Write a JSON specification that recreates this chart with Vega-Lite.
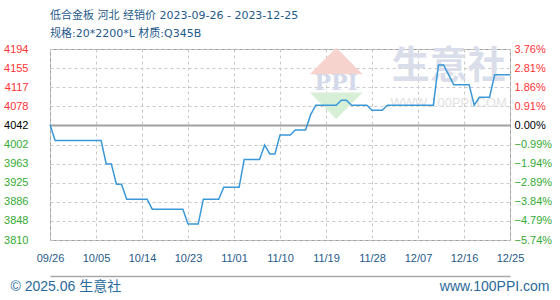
{
  "$schema": "https://vega.github.io/schema/vega-lite/v6.json",
  "autosize": "none",
  "width": 460,
  "height": 191,
  "padding": {"left": 50, "top": 49, "right": 50, "bottom": 60},
  "background": "#ffffff",
  "config": {
    "view": {"stroke": "#a0a0a0", "strokeWidth": 1},
    "font": "Liberation Sans"
  },
  "title": {
    "text": "低合金板 河北 经销价 2023-09-26 - 2023-12-25",
    "subtitle": "规格:20*2200*L 材质:Q345B",
    "anchor": "start",
    "frame": "group",
    "font": "DejaVu Sans, Noto Sans CJK SC",
    "subtitleFont": "DejaVu Sans, Noto Sans CJK SC",
    "fontSize": 11,
    "subtitleFontSize": 11,
    "fontWeight": "normal",
    "color": "#1f5a8a",
    "subtitleColor": "#1f5a8a",
    "subtitlePadding": 7,
    "offset": 4
  },
  "layer": [
    {
      "data": {"values": [{"date": "2023-11-21", "price": 4170}]},
      "mark": {"type": "point", "shape": "M-1,0.5L1,0.5L0,-0.5Z", "size": 2800, "filled": true, "color": "#f6d3cc", "opacity": 1},
      "encoding": {
        "x": {"field": "date", "type": "temporal", "axis": null},
        "y": {"field": "price", "type": "quantitative", "axis": null}
      }
    },
    {
      "data": {"values": [{"date": "2023-11-21", "price": 4080}]},
      "mark": {"type": "point", "shape": "M-1,-0.5L1,-0.5L0,0.5Z", "size": 2800, "filled": true, "color": "#d6efd6", "opacity": 1},
      "encoding": {
        "x": {"field": "date", "type": "temporal", "axis": null},
        "y": {"field": "price", "type": "quantitative", "axis": null}
      }
    },
    {
      "data": {"values": [{"date": "2023-11-21", "price": 4126, "label": "PPI"}]},
      "mark": {"type": "text", "font": "DejaVu Serif", "fontSize": 22, "fontWeight": "bold", "color": "#d3d9e8", "baseline": "middle", "align": "center"},
      "encoding": {
        "x": {"field": "date", "type": "temporal", "axis": null},
        "y": {"field": "price", "type": "quantitative", "axis": null},
        "text": {"field": "label"}
      }
    },
    {
      "data": {"values": [{"date": "2023-12-13", "price": 4157, "label": "生意社"}]},
      "mark": {"type": "text", "font": "Noto Sans CJK SC", "fontSize": 38, "fontWeight": "bold", "color": "#dadeea", "baseline": "middle", "align": "center"},
      "encoding": {
        "x": {"field": "date", "type": "temporal", "axis": null},
        "y": {"field": "price", "type": "quantitative", "axis": null},
        "text": {"field": "label"}
      }
    },
    {
      "data": {"values": [{"date": "2023-12-13", "price": 4086, "label": "WWW.100PPI.COM"}]},
      "mark": {"type": "text", "font": "Liberation Sans", "fontSize": 13, "color": "#e2e2e2", "baseline": "middle", "align": "center"},
      "encoding": {
        "x": {"field": "date", "type": "temporal", "axis": null},
        "y": {"field": "price", "type": "quantitative", "axis": null},
        "text": {"field": "label"}
      }
    },
    {
      "data": {"name": "prices", "values": [
        {"date": "2023-09-26", "price": 4042},
        {"date": "2023-09-27", "price": 4010},
        {"date": "2023-10-06", "price": 4010},
        {"date": "2023-10-07", "price": 3963},
        {"date": "2023-10-08", "price": 3963},
        {"date": "2023-10-09", "price": 3922},
        {"date": "2023-10-10", "price": 3922},
        {"date": "2023-10-11", "price": 3892},
        {"date": "2023-10-15", "price": 3892},
        {"date": "2023-10-16", "price": 3872},
        {"date": "2023-10-22", "price": 3872},
        {"date": "2023-10-23", "price": 3842},
        {"date": "2023-10-25", "price": 3842},
        {"date": "2023-10-26", "price": 3892},
        {"date": "2023-10-29", "price": 3892},
        {"date": "2023-10-30", "price": 3916},
        {"date": "2023-11-02", "price": 3916},
        {"date": "2023-11-03", "price": 3972},
        {"date": "2023-11-06", "price": 3972},
        {"date": "2023-11-07", "price": 4001},
        {"date": "2023-11-08", "price": 3983},
        {"date": "2023-11-09", "price": 3983},
        {"date": "2023-11-10", "price": 4021},
        {"date": "2023-11-12", "price": 4021},
        {"date": "2023-11-13", "price": 4031},
        {"date": "2023-11-15", "price": 4031},
        {"date": "2023-11-16", "price": 4062},
        {"date": "2023-11-17", "price": 4081},
        {"date": "2023-11-21", "price": 4081},
        {"date": "2023-11-22", "price": 4091},
        {"date": "2023-11-23", "price": 4091},
        {"date": "2023-11-24", "price": 4081},
        {"date": "2023-11-27", "price": 4081},
        {"date": "2023-11-28", "price": 4071},
        {"date": "2023-11-30", "price": 4071},
        {"date": "2023-12-01", "price": 4081},
        {"date": "2023-12-10", "price": 4081},
        {"date": "2023-12-11", "price": 4162},
        {"date": "2023-12-12", "price": 4162},
        {"date": "2023-12-13", "price": 4142},
        {"date": "2023-12-14", "price": 4122},
        {"date": "2023-12-17", "price": 4122},
        {"date": "2023-12-18", "price": 4081},
        {"date": "2023-12-19", "price": 4097},
        {"date": "2023-12-21", "price": 4097},
        {"date": "2023-12-22", "price": 4142},
        {"date": "2023-12-25", "price": 4142}
      ]},
      "mark": {"type": "line", "color": "#3a98d8", "strokeWidth": 1.5, "opacity": 0},
      "encoding": {
        "x": {
          "field": "date", "type": "temporal",
          "axis": {
            "orient": "bottom", "offset": 36, "domain": true, "domainColor": "#a8a8a8", "domainWidth": 1.5,
            "labels": false, "ticks": false, "grid": false,
            "title": "www.100PPI.com", "titleFont": "Liberation Sans", "titleFontSize": 14, "titleFontWeight": "normal",
            "titleColor": "#2a6a9a", "titleAlign": "right", "titleBaseline": "alphabetic", "titleX": 499, "titleY": 14, "titleAnchor": "end"
          }
        },
        "y": {
          "field": "price", "type": "quantitative",
          "axis": {
            "orient": "right", "title": null, "grid": false, "ticks": false, "domain": false,
            "values": [4194, 4155.6, 4117.2, 4078.8, 4040.4, 4002, 3963.6, 3925.2, 3886.8, 3848.4, 3810],
            "labelExpr": "datum.value > 4041 ? format(3.76 - (4194 - datum.value) / 38.4 * 0.95, '.2f') + '%' : (datum.value > 4040 ? '0.00%' : format(-0.99 - (4002 - datum.value) / 38.4 * 0.95, '.2f') + '%')",
            "labelFont": "Liberation Sans", "labelFontSize": 11, "labelPadding": 4,
            "labelColor": {"condition": [{"test": "datum.value > 4041", "value": "#ff3333"}, {"test": "datum.value > 4040", "value": "#000000"}], "value": "#33aa33"}
          }
        }
      }
    },
    {
      "data": {"name": "prices"},
      "mark": {"type": "line", "color": "#3a98d8", "strokeWidth": 1.5},
      "encoding": {
        "x": {
          "field": "date", "type": "temporal",
          "scale": {"type": "utc", "domain": [{"year": 2023, "month": 9, "date": 26, "utc": true}, {"year": 2023, "month": 12, "date": 25, "utc": true}]},
          "axis": {
            "orient": "bottom", "format": "%m/%d", "domain": false, "ticks": false,
            "values": [
              {"year": 2023, "month": 9, "date": 26, "utc": true},
              {"year": 2023, "month": 10, "date": 5, "utc": true},
              {"year": 2023, "month": 10, "date": 14, "utc": true},
              {"year": 2023, "month": 10, "date": 23, "utc": true},
              {"year": 2023, "month": 11, "date": 1, "utc": true},
              {"year": 2023, "month": 11, "date": 10, "utc": true},
              {"year": 2023, "month": 11, "date": 19, "utc": true},
              {"year": 2023, "month": 11, "date": 28, "utc": true},
              {"year": 2023, "month": 12, "date": 7, "utc": true},
              {"year": 2023, "month": 12, "date": 16, "utc": true},
              {"year": 2023, "month": 12, "date": 25, "utc": true}
            ],
            "labelFont": "Liberation Sans", "labelFontSize": 11, "labelColor": "#1f5a8a", "labelPadding": 12,
            "labelOverlap": false, "labelFlush": false,
            "grid": true, "gridColor": "#c8c8c8", "gridDash": [3, 3], "gridWidth": 1,
            "title": "© 2025.06 生意社", "titleFont": "Liberation Sans, Noto Sans CJK SC", "titleFontSize": 14, "titleFontWeight": "normal",
            "titleColor": "#2a6a9a", "titleAlign": "left", "titleBaseline": "alphabetic", "titleX": -40, "titleY": 50, "titleAnchor": "start"
          }
        },
        "y": {
          "field": "price", "type": "quantitative",
          "scale": {"domain": [3810, 4194], "nice": false, "zero": false},
          "axis": {
            "orient": "left", "title": null, "ticks": false, "domain": false,
            "values": [4194, 4155.6, 4117.2, 4078.8, 4040.4, 4002, 3963.6, 3925.2, 3886.8, 3848.4, 3810],
            "labelExpr": "datum.value > 4040 && datum.value < 4041 ? '4042' : '' + floor(datum.value)",
            "labelFont": "Liberation Sans", "labelFontSize": 11, "labelPadding": 22,
            "labelColor": {"condition": [{"test": "datum.value > 4041", "value": "#ff3333"}, {"test": "datum.value > 4040", "value": "#000000"}], "value": "#33aa33"},
            "grid": true,
            "gridColor": {"condition": {"test": "datum.value > 4040 && datum.value < 4041", "value": "#a0a0a0"}, "value": "#c8c8c8"},
            "gridDash": {"condition": {"test": "datum.value > 4040 && datum.value < 4041", "value": []}, "value": [3, 3]},
            "gridWidth": {"condition": {"test": "datum.value > 4040 && datum.value < 4041", "value": 2}, "value": 1}
          }
        }
      }
    }
  ],
  "resolve": {"axis": {"x": "independent", "y": "independent"}}
}
